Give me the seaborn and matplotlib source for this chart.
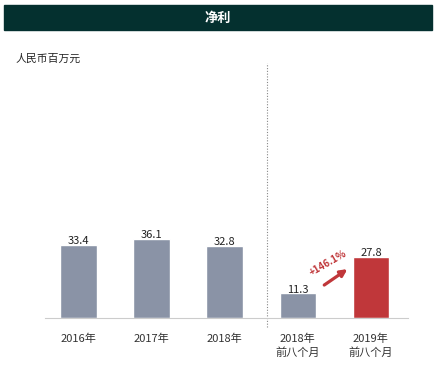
import matplotlib
matplotlib.use("Agg")
import matplotlib.pyplot as plt
import seaborn as sns
import pandas as pd
from matplotlib.patches import Rectangle

# data
periods = ["2016年", "2017年", "2018年", "2018年\n前八个月", "2019年\n前八个月"]
net_profit = [33.4, 36.1, 32.8, 11.3, 27.8]
bar_colors = ["#8a93a6", "#8a93a6", "#8a93a6", "#8a93a6", "#c0373a"]
growth_label = "+146.1%"

sns.set_theme(style="white")
plt.rcParams["font.family"] = ["Noto Sans CJK SC", "DejaVu Sans"]

W, H = 439, 366
fig = plt.figure(figsize=(W / 100, H / 100), dpi=100)

# header band
fig.patches.append(Rectangle((4 / W, 1 - 30 / H), 428 / W, 25 / H,
                             transform=fig.transFigure, color="#04302f", zorder=0))
fig.text(218 / W, 1 - 17.5 / H, "净利", color="white", fontsize=9.5,
         fontweight="bold", ha="center", va="center")
fig.text(16 / W, 1 - 59 / H, "人民币百万元", fontsize=7.8, ha="left", va="center")

ax = fig.add_axes([45 / W, 1 - 318 / H, 363 / W, 248 / H])
df = pd.DataFrame({"period": periods, "value": net_profit})
sns.barplot(data=df, x="period", y="value", hue="period", palette=bar_colors,
            width=0.5, legend=False, ax=ax, saturation=1)

ax.set_xlim(-0.458, 4.507)
ax.set_ylim(0, 113)
for c in ax.containers:
    ax.bar_label(c, fmt="%.1f", padding=-1, fontsize=8, color="#222222")

sns.despine(ax=ax, left=True, top=True, right=True)
ax.spines["bottom"].set_color("#cccccc")
ax.spines["bottom"].set_linewidth(0.8)
ax.set_yticks([])
ax.set_xlabel("")
ax.set_ylabel("")
ax.tick_params(axis="x", length=0, labelsize=8, colors="#333333", pad=11)
for t in ax.get_xticklabels():
    t.set_linespacing(1.45)

# separator between full years and eight-month periods
ax.axvline(2.58, ymin=-0.035, ymax=1.03, color="#888888", lw=0.8,
           ls=(0, (1, 1.5)), clip_on=False)

# growth arrow
ax.annotate("", xy=(3.71, 23.0), xytext=(3.33, 14.3),
            arrowprops=dict(arrowstyle="-|>", color="#c0373a", lw=2.3,
                            mutation_scale=10))
ax.text(3.41, 24.8, growth_label, color="#c0373a", fontsize=7,
        fontweight="bold", rotation=30, ha="center", va="center")

fig.savefig("out.png", dpi=100)
